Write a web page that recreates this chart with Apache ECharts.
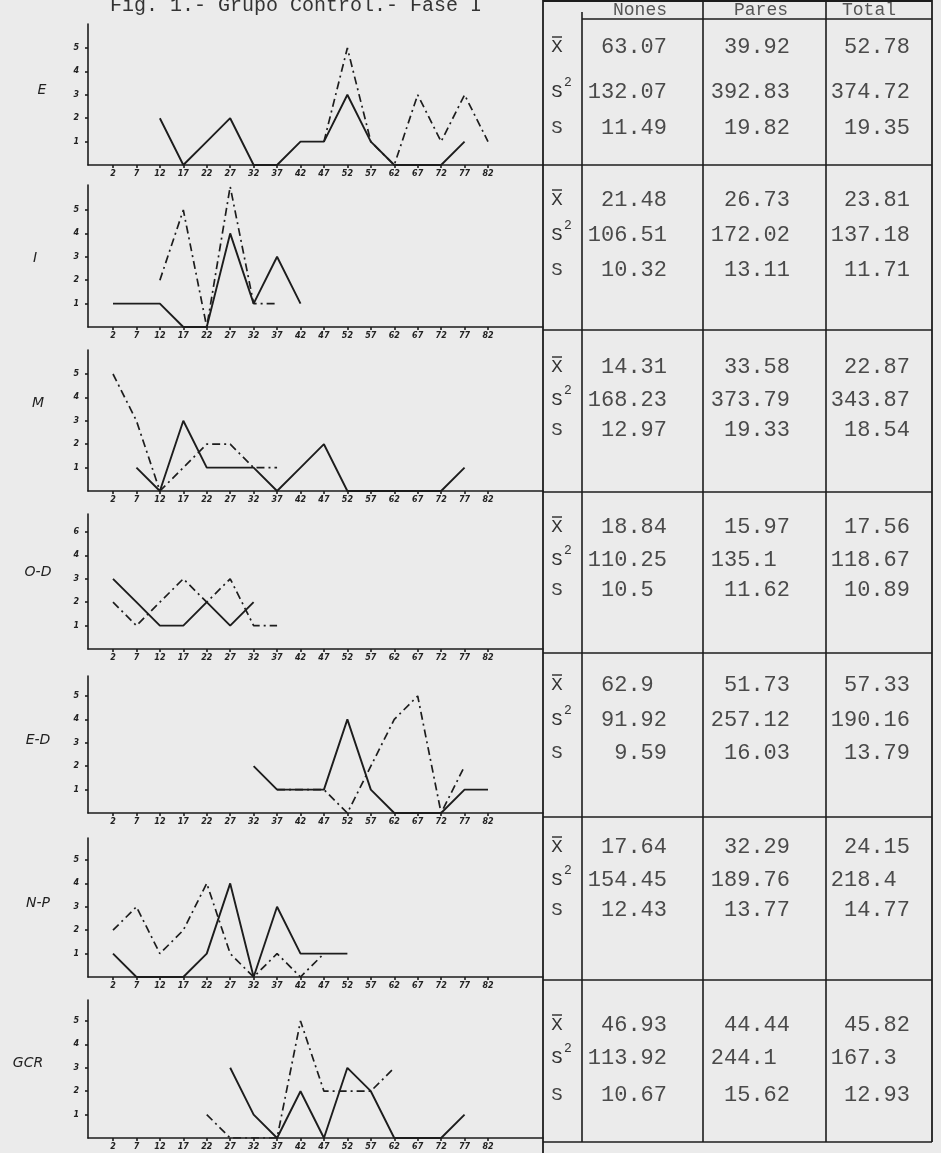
<!DOCTYPE html>
<html><head><meta charset="utf-8">
<script src="https://cdn.jsdelivr.net/npm/echarts@6/dist/echarts.min.js"></script>
<style>html,body{margin:0;padding:0;background:#ebebeb}#c{width:941px;height:1153px}</style>
</head><body><div id="c"></div>
<script>
// ---------- data ----------
const categories = [2,7,12,17,22,27,32,37,42,47,52,57,62,67,72,77,82];
const panelNames = ['E','I','M','O-D','E-D','N-P','GCR'];
const n = null;
// solid line (Nones) and dash-dot line (Pares) per panel
const E_solid   = [n,n,2,0,1,2,0,0,1,1,3,1,0,0,0,1,n];
const E_dash    = [n,n,n,n,n,n,n,n,n,1,5,1,0,3,1,3,1];
const I_solid   = [1,1,1,0,0,4,1,3,1,n,n,n,n,n,n,n,n];
const I_dash    = [n,n,2,5,0,6,1,1,n,n,n,n,n,n,n,n,n];
const M_solid   = [n,1,0,3,1,1,1,0,1,2,0,0,0,0,0,1,n];
const M_dash    = [5,3,0,1,2,2,1,1,n,n,n,n,n,n,n,n,n];
const OD_solid  = [3,2,1,1,2,1,2,n,n,n,n,n,n,n,n,n,n];
const OD_dash   = [2,1,2,3,2,3,1,1,n,n,n,n,n,n,n,n,n];
const ED_solid  = [n,n,n,n,n,n,2,1,1,1,4,1,0,0,0,1,1];
const ED_dash   = [n,n,n,n,n,n,n,1,1,1,0,2,4,5,0,2,n];
const NP_solid  = [1,0,0,0,1,4,0,3,1,1,1,n,n,n,n,n,n];
const NP_dash   = [2,3,1,2,4,1,0,1,0,1,n,n,n,n,n,n,n];
const GCR_solid = [n,n,n,n,n,3,1,0,2,0,3,2,0,0,0,1,n];
const GCR_dash  = [n,n,n,n,1,0,0,0,5,2,2,2,3,n,n,n,n];
const solidSeries = [E_solid, I_solid, M_solid, OD_solid, ED_solid, NP_solid, GCR_solid];
const dashSeries  = [E_dash, I_dash, M_dash, OD_dash, ED_dash, NP_dash, GCR_dash];
const yTickValues = [1,2,3,4,5];
const yTickLabels = [
  ['1','2','3','4','5'], ['1','2','3','4','5'], ['1','2','3','4','5'],
  ['1','2','3','4','6'], ['1','2','3','4','5'], ['1','2','3','4','5'], ['1','2','3','4','5']
];
// table
const colHeaders = ['Nones','Pares','Total'];
const meanNones = [63.07, 21.48, 14.31, 18.84, 62.9, 17.64, 46.93];
const meanPares = [39.92, 26.73, 33.58, 15.97, 51.73, 32.29, 44.44];
const meanTotal = [52.78, 23.81, 22.87, 17.56, 57.33, 24.15, 45.82];
const varNones  = [132.07, 106.51, 168.23, 110.25, 91.92, 154.45, 113.92];
const varPares  = [392.83, 172.02, 373.79, 135.1, 257.12, 189.76, 244.1];
const varTotal  = [374.72, 137.18, 343.87, 118.67, 190.16, 218.4, 167.3];
const sdNones   = [11.49, 10.32, 12.97, 10.5, 9.59, 12.43, 10.67];
const sdPares   = [19.82, 13.11, 19.33, 11.62, 16.03, 13.77, 15.62];
const sdTotal   = [19.35, 11.71, 18.54, 10.89, 13.79, 14.77, 12.93];

// ---------- layout ----------
const L = {
  yAxisX: 88, xFirst: 113, xLast: 488, xEnd: 543, unitPx: 23.4,
  panelTop:  [24, 185, 350, 514, 676, 838, 1000],
  panelBase: [165, 327, 491, 649, 813, 977, 1138],
  labelPos: [[42,90],[35,258],[38,403],[38,572],[38,740],[38,903],[28,1063]],
  tblLeft: 543, tblRight: 932, colLines: [582, 703, 826], headerLine: 19,
  seps: [165, 330, 492, 653, 817, 980, 1142],
  rows: [[47,92,128],[200,235,270],[367,400,430],[527,560,590],[685,720,753],[847,880,910],[1025,1058,1095]],
  colRight: [667, 790, 910], headerX: [640, 761, 869], labelX: 557
};
const pxPerVal = (L.xLast - L.xFirst) / (categories[categories.length-1] - categories[0]);
const xMin = categories[0] - (L.xFirst - L.yAxisX) / pxPerVal;
const xMax = categories[categories.length-1] + (L.xEnd - L.xLast) / pxPerVal;

const INK = '#1d1d1d';
const MONO = '"Liberation Mono", "DejaVu Sans Mono", monospace';

const grid = [], xAxis = [], yAxis = [], series = [];
function pairs(arr){ return categories.map((c,i)=>[c, arr[i]]).filter(p=>p[1]!==null); }

panelNames.forEach((name, i) => {
  const h = L.panelBase[i] - L.panelTop[i];
  grid.push({left: L.yAxisX, top: L.panelTop[i], width: L.xEnd - L.yAxisX, height: h});
  xAxis.push({
    type: 'value', gridIndex: i, min: xMin, max: xMax,
    axisLine: {show: true, onZero: false, lineStyle: {color: INK, width: 1.6}},
    axisTick: {show: true, customValues: categories, length: 3, lineStyle: {color: INK, width: 1.6}},
    axisLabel: {show: true, customValues: categories, margin: 5, color: '#222',
      fontSize: 8, fontStyle: 'italic', fontWeight: 'bold', fontFamily: 'DejaVu Sans',
      formatter: v => String(v)},
    splitLine: {show: false}
  });
  yAxis.push({
    type: 'value', gridIndex: i, min: 0, max: h / L.unitPx,
    axisLine: {show: true, onZero: false, lineStyle: {color: INK, width: 1.6}},
    axisTick: {show: true, customValues: yTickValues, length: 3, lineStyle: {color: INK, width: 1.6}},
    axisLabel: {show: true, customValues: yTickValues, margin: 9, color: '#222',
      fontSize: 8, fontStyle: 'italic', fontWeight: 'bold', fontFamily: 'DejaVu Sans',
      formatter: v => yTickLabels[i][yTickValues.indexOf(Math.round(v))] || ''},
    splitLine: {show: false}
  });
  series.push({
    type: 'line', name: name + ' Nones', xAxisIndex: i, yAxisIndex: i,
    data: pairs(solidSeries[i]), symbol: 'none', silent: true, z: 3,
    lineStyle: {color: INK, width: 1.9, type: 'solid'}
  });
  series.push({
    type: 'line', name: name + ' Pares', xAxisIndex: i, yAxisIndex: i,
    data: pairs(dashSeries[i]), symbol: 'none', silent: true, z: 2,
    lineStyle: {color: INK, width: 1.7, type: [8, 4, 2, 4]}
  });
});

// ---------- graphic (title, panel labels, table) ----------
const g = [];
function line(x1,y1,x2,y2,w){ g.push({type:'line', silent:true, shape:{x1,y1,x2,y2}, style:{stroke: INK, lineWidth: w||1.6}}); }
function text(t,x,y,font,fill,align){ g.push({type:'text', silent:true, style:{text:t, x, y, font, fill,
  textAlign: align||'center', textVerticalAlign:'middle', align: align||'center', verticalAlign:'middle'}}); }

text('Fig. 1.- Grupo Control.- Fase I', 296, 6, '20px ' + MONO, '#333', 'center');
panelNames.forEach((nm,i)=> text(nm, L.labelPos[i][0], L.labelPos[i][1], 'italic 14px "DejaVu Sans", sans-serif', '#222', 'center'));

// table frame
line(L.tblLeft, 1, L.tblRight, 1, 1.8);
line(L.tblLeft, 0, L.tblLeft, 1153, 1.8);
line(L.tblRight, 0, L.tblRight, L.seps[6], 1.8);
line(L.colLines[0], 12, L.colLines[0], L.seps[6], 1.6);
line(L.colLines[1], 0, L.colLines[1], L.seps[6], 1.6);
line(L.colLines[2], 0, L.colLines[2], L.seps[6], 1.6);
line(L.colLines[0], L.headerLine, L.tblRight, L.headerLine, 1.6);
L.seps.forEach(y => line(L.tblLeft, y, L.tblRight, y, 1.6));
colHeaders.forEach((h,k)=> text(h, L.headerX[k], 10, '18px ' + MONO, '#555', 'center'));

function fmt(v){ const s = String(v); const d = s.indexOf('.'); const frac = d < 0 ? 0 : s.length - d - 1; return s + ' '.repeat(2 - frac) ; }
const tableRows = [[meanNones, meanPares, meanTotal],[varNones, varPares, varTotal],[sdNones, sdPares, sdTotal]];
panelNames.forEach((nm,i)=>{
  const r = L.rows[i];
  text('X', L.labelX, r[0], '19px ' + MONO, '#333', 'center');
  line(L.labelX-5, r[0]-10, L.labelX+5, r[0]-10, 1.3);
  text('S', L.labelX, r[1], '19px ' + MONO, '#333', 'center');
  text('2', L.labelX+11, r[1]-9, '13px ' + MONO, '#333', 'center');
  text('S', L.labelX, r[2], '19px ' + MONO, '#444', 'center');
  tableRows.forEach((row, ri)=> row.forEach((arr, ci)=>{
    text(fmt(arr[i]), L.colRight[ci], r[ri], '22px ' + MONO, '#4a4a4a', 'right');
  }));
});

const chart = echarts.init(document.getElementById('c'), null, {renderer: 'canvas'});
chart.setOption({
  backgroundColor: '#ebebeb',
  animation: false,
  grid, xAxis, yAxis, series, graphic: g
});
</script></body></html>
